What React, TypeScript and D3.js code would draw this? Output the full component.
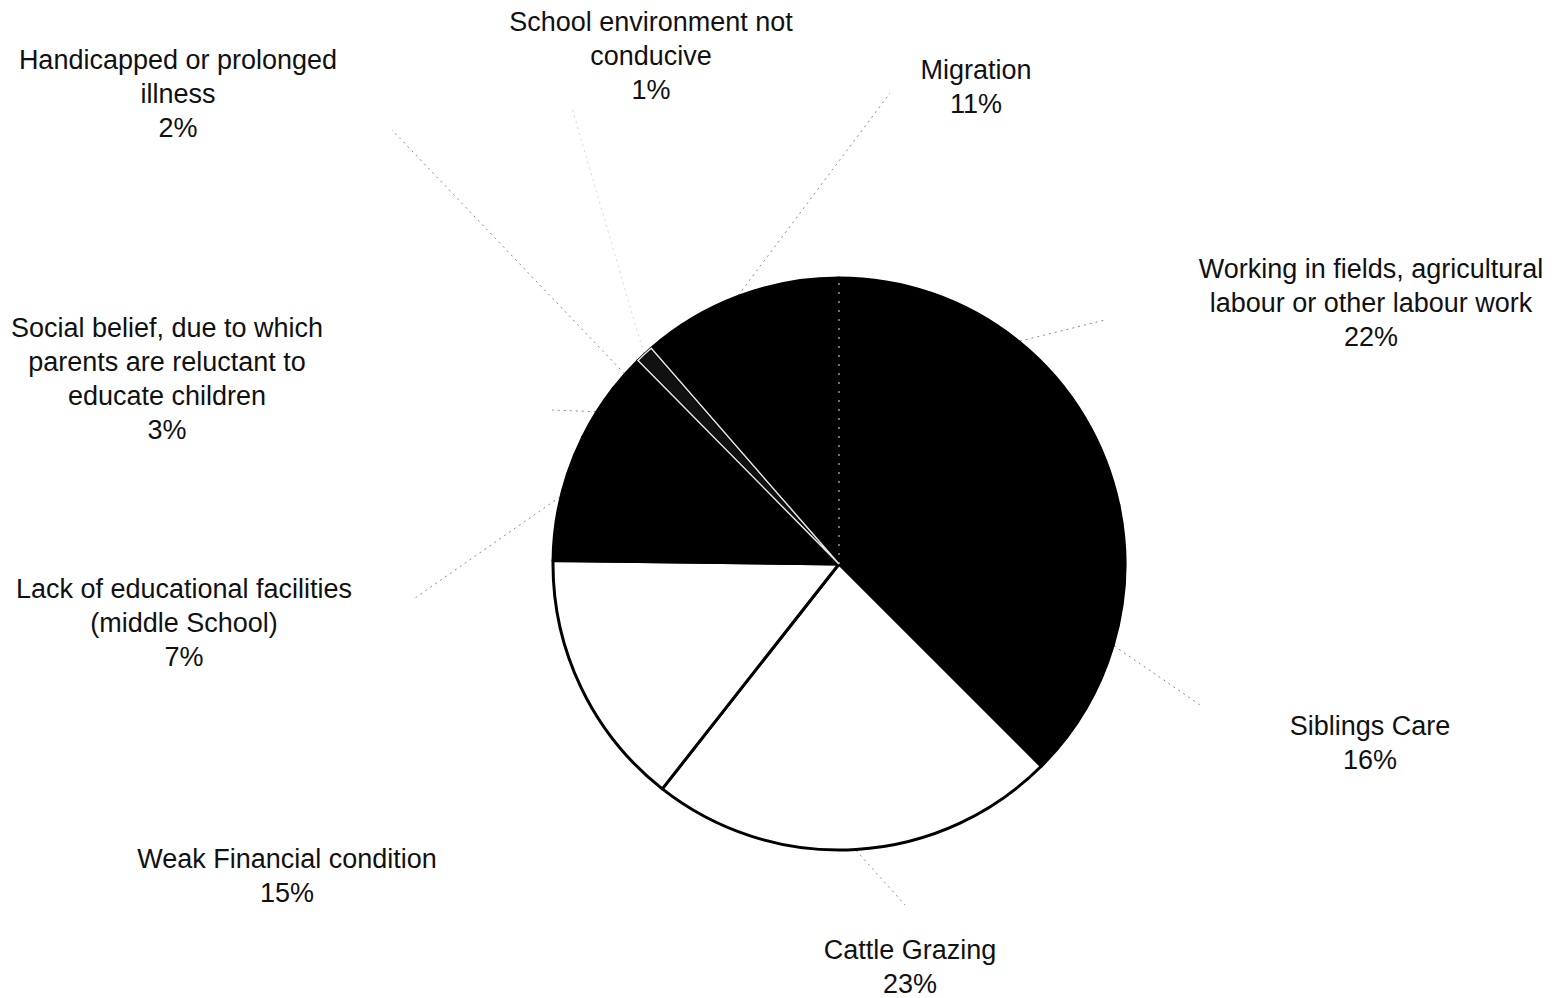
import React from "react";
import * as d3 from "d3";

// ---- data ----
const categories = [
  "Working in fields, agricultural labour or other labour work",
  "Siblings Care",
  "Cattle Grazing",
  "Weak Financial condition",
  "Lack of educational facilities (middle School)",
  "Social belief, due to which parents are reluctant to educate children",
  "Handicapped or prolonged illness",
  "School environment not conducive",
  "Migration",
];
const values = [21.7, 15.8, 23.1, 14.6, 7.1, 3.2, 2.1, 1.0, 11.4];
const labelLines = [
  ["Working in fields, agricultural", "labour or other labour work"],
  ["Siblings Care"],
  ["Cattle Grazing"],
  ["Weak Financial condition"],
  ["Lack of educational facilities", "(middle School)"],
  ["Social belief, due to which", "parents are reluctant to", "educate children"],
  ["Handicapped or prolonged", "illness"],
  ["School environment not", "conducive"],
  ["Migration"],
];

// ---- layout ----
const W = 1556;
const H = 998;
const CX = 839;
const CY = 564;
const R = 286;
const FONT = 27;
const LINE = 34;
const labelPos: [number, number][] = [
  [1371, 278],
  [1370, 735],
  [910, 959],
  [287, 868],
  [184, 598],
  [167, 337],
  [178, 69],
  [651, 31],
  [976, 79],
];
const leaderEnds: ([number, number] | null)[] = [
  [1105, 320],
  [1200, 705],
  [905, 905],
  null,
  [415, 598],
  [552, 410],
  [392, 130],
  [572, 108],
  [890, 93],
];
const leaderOpacity = [1, 1, 1, 0, 1, 1, 1, 0.35, 1];
const fills = ["#000", "#000", "#fff", "#fff", "#000", "#000", "#000", "#111", "#000"];

export default function App() {
  const pie = d3
    .pie<number>()
    .sort(null)
    .value((d) => d)
    .startAngle(0)
    .endAngle(2 * Math.PI);
  const arcs = pie(values);
  const arc = d3.arc<d3.PieArcDatum<number>>().innerRadius(0).outerRadius(R);
  const total = d3.sum(values);

  const polar = (a: number, r: number): [number, number] => [
    CX + Math.sin(a) * r,
    CY - Math.cos(a) * r,
  ];

  return (
    <svg
      width={W}
      height={H}
      style={{ position: "absolute", left: 0, top: 0, background: "#fff" }}
      fontFamily="'Liberation Sans', Arial, sans-serif"
    >
      <rect x={0} y={0} width={W} height={H} fill="#fff" />
      {/* leader lines */}
      {arcs.map((a, i) => {
        const end = leaderEnds[i];
        if (!end) return null;
        const mid = (a.startAngle + a.endAngle) / 2;
        const [x1, y1] = polar(mid, R + 1);
        return (
          <line
            key={"l" + i}
            x1={x1}
            y1={y1}
            x2={end[0]}
            y2={end[1]}
            stroke="#8a8a8a"
            strokeOpacity={leaderOpacity[i]}
            strokeWidth={1}
            strokeDasharray="2 4"
          />
        );
      })}
      <g transform={`translate(${CX},${CY})`}>
        {arcs.map((a, i) => (
          <path
            key={"s" + i}
            d={arc(a) || ""}
            fill={fills[i]}
            stroke="#000"
            strokeWidth={3}
            strokeLinejoin="round"
          />
        ))}
        {/* thin slice highlight (School environment) */}
        <path
          d={arc(arcs[7]) || ""}
          fill="none"
          stroke="#e6e6e6"
          strokeWidth={1.5}
        />
        {/* dotted boundary at start of first slice */}
        <line
          x1={0}
          y1={0}
          x2={Math.sin(arcs[0].startAngle) * (R - 2)}
          y2={-Math.cos(arcs[0].startAngle) * (R - 2)}
          stroke="#bbb"
          strokeWidth={1.2}
          strokeDasharray="2 7"
        />
      </g>
      {/* labels */}
      {arcs.map((a, i) => {
        const lines = [...labelLines[i], `${Math.round((values[i] / total) * 100)}%`];
        const [x, y] = labelPos[i];
        return (
          <text
            key={"t" + i}
            x={x}
            y={y}
            textAnchor="middle"
            fontSize={FONT}
            fill="#111"
          >
            {lines.map((ln, j) => (
              <tspan key={j} x={x} y={y + j * LINE}>
                {ln}
              </tspan>
            ))}
          </text>
        );
      })}
    </svg>
  );
}
